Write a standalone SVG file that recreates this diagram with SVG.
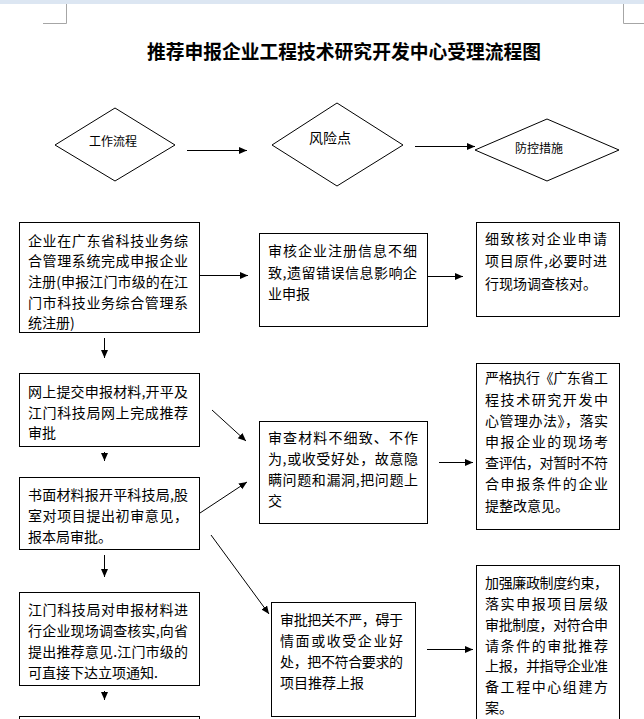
<svg xmlns="http://www.w3.org/2000/svg" width="644" height="719" viewBox="0 0 644 719">
<style>
  .bg { fill: #ffffff; }
  .band { fill: #dce6f2; }
  .mark { stroke: #a6a6a6; stroke-width: 1; fill: none; }
  .shape { fill: #ffffff; stroke: #000000; stroke-width: 1; }
  .line { stroke: #000000; stroke-width: 1; fill: none; marker-end: url(#arrow); }
  .title { font-family: "Noto Sans CJK SC", "Noto Sans", sans-serif; font-size: 19.5px; font-weight: 700; fill: #000; }
  .t { font-family: "Noto Sans CJK SC", "Noto Sans", sans-serif; font-size: 14px; fill: #000; }
  .d { font-family: "Noto Sans CJK SC", "Noto Sans", sans-serif; font-size: 12px; fill: #000; text-anchor: middle; }
</style>
<defs>
  <marker id="arrow" markerUnits="userSpaceOnUse" markerWidth="9" markerHeight="8" refX="8" refY="3.5" orient="auto">
    <path d="M0,0 L8,3.5 L0,7 z" fill="#000"/>
  </marker>
</defs>
<rect class="bg" x="0" y="0" width="644" height="719"/>
<rect class="band" x="0" y="0" width="644" height="4"/>
<path class="mark" d="M66.5,4 V23.5 H43 M623.5,4 V23.5 H644"/>
<text class="title" x="147" y="58.5" textLength="394" lengthAdjust="spacingAndGlyphs">推荐申报企业工程技术研究开发中心受理流程图</text>

<g id="header-work">
  <polygon class="shape" points="115,108 175,145 115,181 55,145"/>
  <text class="d" x="113" y="145.5">工作流程</text>
</g>
<g id="header-risk">
  <polygon class="shape" points="337,103 403,145 337,186 272,145"/>
  <text class="d" x="330" y="143" style="font-size:14px">风险点</text>
</g>
<g id="header-control">
  <polygon class="shape" points="547,119 619,150 547,181 475,150"/>
  <text class="d" x="539" y="152.5">防控措施</text>
</g>

<g id="box-a">
  <rect class="shape" x="19.5" y="222.5" width="180" height="110"/>
  <text class="t" x="28" y="245.5" textLength="160" lengthAdjust="spacing">企业在广东省科技业务综</text>
  <text class="t" x="28" y="266.2" textLength="160" lengthAdjust="spacing">合管理系统完成申报企业</text>
  <text class="t" x="28" y="286.9" textLength="160" lengthAdjust="spacing">注册(申报江门市级的在江</text>
  <text class="t" x="28" y="307.6" textLength="160" lengthAdjust="spacing">门市科技业务综合管理系</text>
  <text class="t" x="28" y="328.3">统注册)</text>
</g>
<g id="box-b">
  <rect class="shape" x="259.5" y="233.5" width="168" height="93"/>
  <text class="t" x="268" y="256" textLength="149" lengthAdjust="spacing">审核企业注册信息不细</text>
  <text class="t" x="268" y="277.5" textLength="149" lengthAdjust="spacing">致,遗留错误信息影响企</text>
  <text class="t" x="268" y="299">业申报</text>
</g>
<g id="box-c">
  <rect class="shape" x="476.5" y="222.5" width="143" height="94"/>
  <text class="t" x="485" y="243.5" textLength="122" lengthAdjust="spacing">细致核对企业申请</text>
  <text class="t" x="485" y="266" textLength="122" lengthAdjust="spacing">项目原件,必要时进</text>
  <text class="t" x="485" y="288.5">行现场调查核对。</text>
</g>
<g id="box-d">
  <rect class="shape" x="19.5" y="373.5" width="180" height="73"/>
  <text class="t" x="28" y="397" textLength="160" lengthAdjust="spacing">网上提交申报材料,开平及</text>
  <text class="t" x="28" y="417.5" textLength="160" lengthAdjust="spacing">江门科技局网上完成推荐</text>
  <text class="t" x="28" y="438">审批</text>
</g>
<g id="box-e">
  <rect class="shape" x="19.5" y="477.5" width="180" height="72"/>
  <text class="t" x="28" y="500" textLength="160" lengthAdjust="spacing">书面材料报开平科技局,股</text>
  <text class="t" x="28" y="521" textLength="160" lengthAdjust="spacing">室对项目提出初审意见，</text>
  <text class="t" x="28" y="542">报本局审批。</text>
</g>
<g id="box-f">
  <rect class="shape" x="259.5" y="421.5" width="168" height="102"/>
  <text class="t" x="268" y="443" textLength="150" lengthAdjust="spacing">审查材料不细致、不作</text>
  <text class="t" x="268" y="464" textLength="150" lengthAdjust="spacing">为,或收受好处，故意隐</text>
  <text class="t" x="268" y="485" textLength="150" lengthAdjust="spacing">瞒问题和漏洞,把问题上</text>
  <text class="t" x="268" y="506">交</text>
</g>
<g id="box-g">
  <rect class="shape" x="476.5" y="363.5" width="143" height="166"/>
  <text class="t" x="485" y="383.3" textLength="123" lengthAdjust="spacing">严格执行《广东省工</text>
  <text class="t" x="485" y="404.5" textLength="123" lengthAdjust="spacing">程技术研究开发中</text>
  <text class="t" x="485" y="425.7" textLength="123" lengthAdjust="spacing">心管理办法》，落实</text>
  <text class="t" x="485" y="446.9" textLength="123" lengthAdjust="spacing">申报企业的现场考</text>
  <text class="t" x="485" y="468.1" textLength="123" lengthAdjust="spacing">查评估，对暂时不符</text>
  <text class="t" x="485" y="489.3" textLength="123" lengthAdjust="spacing">合申报条件的企业</text>
  <text class="t" x="485" y="510.5">提整改意见。</text>
</g>
<g id="box-h">
  <rect class="shape" x="271.5" y="602.5" width="144" height="114"/>
  <text class="t" x="280" y="625" textLength="123" lengthAdjust="spacing">审批把关不严，碍于</text>
  <text class="t" x="280" y="646" textLength="123" lengthAdjust="spacing">情面或收受企业好</text>
  <text class="t" x="280" y="667" textLength="123" lengthAdjust="spacing">处，把不符合要求的</text>
  <text class="t" x="280" y="688">项目推荐上报</text>
</g>
<g id="box-i">
  <rect class="shape" x="19.5" y="592.5" width="180" height="93"/>
  <text class="t" x="28" y="615" textLength="160" lengthAdjust="spacing">江门科技局对申报材料进</text>
  <text class="t" x="28" y="636" textLength="160" lengthAdjust="spacing">行企业现场调查核实,向省</text>
  <text class="t" x="28" y="657" textLength="160" lengthAdjust="spacing">提出推荐意见.江门市级的</text>
  <text class="t" x="28" y="678">可直接下达立项通知.</text>
</g>
<g id="box-j">
  <rect class="shape" x="19.5" y="716.5" width="180" height="20"/>
</g>
<g id="box-k">
  <rect class="shape" x="476.5" y="565.5" width="143" height="170"/>
  <text class="t" x="485" y="588" textLength="123" lengthAdjust="spacing">加强廉政制度约束，</text>
  <text class="t" x="485" y="609" textLength="123" lengthAdjust="spacing">落实申报项目层级</text>
  <text class="t" x="485" y="630" textLength="123" lengthAdjust="spacing">审批制度，对符合申</text>
  <text class="t" x="485" y="650.5" textLength="123" lengthAdjust="spacing">请条件的审批推荐</text>
  <text class="t" x="485" y="671" textLength="123" lengthAdjust="spacing">上报，并指导企业准</text>
  <text class="t" x="485" y="692" textLength="123" lengthAdjust="spacing">备工程中心组建方</text>
  <text class="t" x="485" y="712.5">案。</text>
</g>

<g id="connectors">
  <line class="line" x1="187" y1="150.5" x2="247" y2="150.5"/>
  <line class="line" x1="415" y1="146.5" x2="475" y2="146.5"/>
  <line class="line" x1="200" y1="275.5" x2="248" y2="275.5"/>
  <line class="line" x1="428" y1="276.5" x2="463" y2="276.5"/>
  <line class="line" x1="104.5" y1="338" x2="104.5" y2="358"/>
  <line class="line" x1="104.5" y1="452" x2="104.5" y2="461"/>
  <line class="line" x1="212" y1="410" x2="246" y2="441"/>
  <line class="line" x1="200" y1="513" x2="247" y2="482"/>
  <line class="line" x1="439" y1="462.5" x2="473" y2="462.5"/>
  <line class="line" x1="211" y1="535" x2="269" y2="614"/>
  <line class="line" x1="104.5" y1="555" x2="104.5" y2="577"/>
  <line class="line" x1="427" y1="649.5" x2="473" y2="649.5"/>
  <line class="line" x1="104.5" y1="691" x2="104.5" y2="700"/>
</g>
</svg>
